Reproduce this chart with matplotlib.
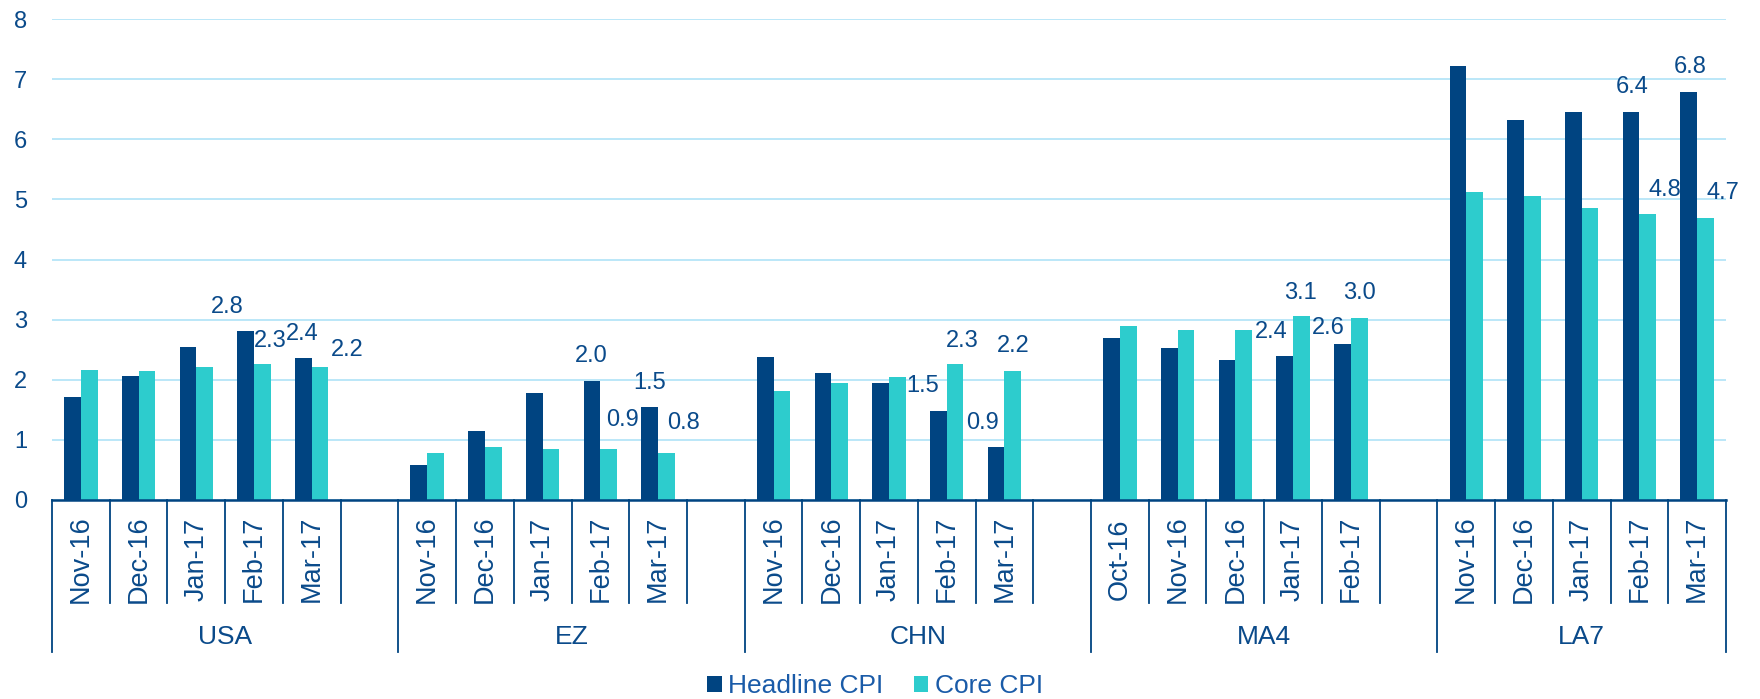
import matplotlib.pyplot as plt
import numpy as np

plt.rcParams['font.family'] = ['Liberation Sans', 'DejaVu Sans']

groups = ['USA', 'EZ', 'CHN', 'MA4', 'LA7']
months = [
    ['Nov-16', 'Dec-16', 'Jan-17', 'Feb-17', 'Mar-17'],
    ['Nov-16', 'Dec-16', 'Jan-17', 'Feb-17', 'Mar-17'],
    ['Nov-16', 'Dec-16', 'Jan-17', 'Feb-17', 'Mar-17'],
    ['Oct-16', 'Nov-16', 'Dec-16', 'Jan-17', 'Feb-17'],
    ['Nov-16', 'Dec-16', 'Jan-17', 'Feb-17', 'Mar-17'],
]
headline = [
    [1.71, 2.07, 2.54, 2.81, 2.37],
    [0.58, 1.15, 1.78, 1.98, 1.54],
    [2.38, 2.11, 1.94, 1.48, 0.88],
    [2.70, 2.53, 2.33, 2.40, 2.60],
    [7.21, 6.32, 6.45, 6.45, 6.78],
]
core = [
    [2.17, 2.14, 2.21, 2.27, 2.21],
    [0.79, 0.88, 0.85, 0.85, 0.79],
    [1.81, 1.94, 2.04, 2.27, 2.14],
    [2.90, 2.83, 2.83, 3.06, 3.03],
    [5.12, 5.05, 4.85, 4.75, 4.69],
]
# shown data labels (None = no label)
headline_labels = [
    [None, None, None, '2.8', '2.4'],
    [None, None, None, '2.0', '1.5'],
    [None, None, None, '1.5', '0.9'],
    [None, None, None, '2.4', '2.6'],
    [None, None, None, '6.4', '6.8'],
]
core_labels = [
    [None, None, None, '2.3', '2.2'],
    [None, None, None, '0.9', '0.8'],
    [None, None, None, '2.3', '2.2'],
    [None, None, None, '3.1', '3.0'],
    [None, None, None, '4.8', '4.7'],
]

# label offsets in pixels (dx, up) from bar top centre
head_off = [
    [None, None, None, (-18, 24), (-1, 24)],
    [None, None, None, (-1, 25), (0, 24)],
    [None, None, None, (-16, 25), (-14, 24)],
    [None, None, None, (-13, 24), (-14, 16)],
    [None, None, None, (1, 25), (1, 25)],
]
core_off = [
    [None, None, None, (8, 23), (27, 17)],
    [None, None, None, (14, 29), (17, 30)],
    [None, None, None, (7, 23), (0, 25)],
    [None, None, None, (-1, 23), (0, 25)],
    [None, None, None, (17, 24), (17, 25)],
]

navy = '#004481'
turq = '#2DCCCD'
grid_c = '#B5E5F8'
txt = '#0A4A8A'

fig = plt.figure(figsize=(17.6, 6.99), dpi=100)
ax = fig.add_axes([52 / 1760, 1 - 500 / 699, 1674 / 1760, 481 / 699])

w = 0.29
px2pt = 72 / 100
starts = []
pos = 0
for g in range(len(groups)):
    starts.append(pos)
    x = pos + np.arange(len(months[g]))
    ax.bar(x - w / 2, headline[g], w, color=navy, zorder=3,
           label='Headline CPI' if g == 0 else None)
    ax.bar(x + w / 2, core[g], w, color=turq, zorder=3,
           label='Core CPI' if g == 0 else None)
    for m in range(len(months[g])):
        if headline_labels[g][m]:
            dx, up = head_off[g][m]
            ax.annotate(headline_labels[g][m], (x[m] - w / 2, headline[g][m]),
                        xytext=(dx * px2pt, up * px2pt), textcoords='offset points',
                        ha='center', va='center', fontsize=17, color=txt, zorder=4)
        if core_labels[g][m]:
            dx, up = core_off[g][m]
            ax.annotate(core_labels[g][m], (x[m] + w / 2, core[g][m]),
                        xytext=(dx * px2pt, up * px2pt), textcoords='offset points',
                        ha='center', va='center', fontsize=17, color=txt, zorder=4)
    pos += len(months[g]) + (1 if g < len(groups) - 1 else 0)

ax.set_xlim(-0.5, pos - 0.5)
ax.set_ylim(0, 8)
ax.set_yticks(range(0, 9))
ax.yaxis.grid(True, color=grid_c, linewidth=1.3, zorder=0)
ax.set_axisbelow(True)
for s in ['left', 'right', 'top']:
    ax.spines[s].set_visible(False)
ax.spines['bottom'].set_color(navy)
ax.spines['bottom'].set_linewidth(1.8)
ax.spines['bottom'].set_zorder(5)
ax.set_xticks([])
ax.tick_params(axis='y', length=0, pad=18, labelsize=17, labelcolor=txt)

# two-level category axis
tr = ax.get_xaxis_transform()
month_y = -103 / 481
group_y = -152 / 481
for g in range(len(groups)):
    s = starts[g]
    n = len(months[g])
    span = n + (1 if g < len(groups) - 1 else 0)
    for m in range(n):
        ax.text(s + m, -59 / 481, months[g][m], transform=tr, rotation=90,
                ha='center', va='center', fontsize=19.5, color=txt)
    for k in range(1, span):
        ax.plot([s + k - 0.5] * 2, [0, month_y], transform=tr, color=navy,
                linewidth=1.3, clip_on=False)
    ax.plot([s - 0.5] * 2, [0, group_y], transform=tr, color=navy,
            linewidth=1.3, clip_on=False)
    ax.text(s + (span - 1) / 2, -137 / 481, groups[g], transform=tr,
            ha='center', va='center', fontsize=19, color=txt)
ax.plot([pos - 0.5] * 2, [0, group_y], transform=tr, color=navy,
        linewidth=1.3, clip_on=False)

leg = fig.legend(loc='center', bbox_to_anchor=(875 / 1760, 1 - 686 / 699),
                 ncol=2, frameon=False, fontsize=19, handlelength=0.55,
                 handleheight=0.55, handletextpad=0.25, columnspacing=1.15,
                 borderpad=0)
for t in leg.get_texts():
    t.set_color('#1A5BA8')

fig.savefig('out.png', dpi=100)
